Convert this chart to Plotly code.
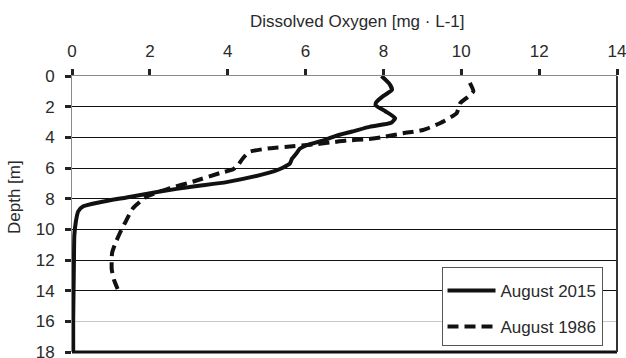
import plotly.graph_objects as go

# August 2015 profile (depth m, dissolved oxygen mg/L)
depth_2015 = [0.0, 0.5, 0.9, 1.3, 1.7, 1.9, 2.3, 2.75, 3.05, 3.3, 3.62, 3.9, 4.17, 4.5, 4.75,
              5.03, 5.4, 5.7, 6.0, 6.2, 6.45, 6.92, 7.2, 7.53, 7.92, 8.23, 8.5, 8.83, 9.48,
              10.4, 12.0, 14.0, 16.0, 18.0]
do_2015 = [7.95, 8.15, 8.22, 8.0, 7.82, 7.8, 8.05, 8.3, 8.2, 7.66, 7.2, 6.78, 6.5, 6.05, 5.85,
           5.77, 5.65, 5.6, 5.4, 5.2, 4.85, 3.97, 3.12, 2.26, 1.4, 0.72, 0.29, 0.16, 0.1,
           0.06, 0.05, 0.04, 0.03, 0.03]

# August 1986 profile
depth_1986 = [0.45, 1.0, 1.4, 1.78, 2.43, 3.08, 3.52, 3.73, 4.0, 4.12, 4.21, 4.34, 4.49, 4.6,
              4.71, 4.93, 5.2, 5.47, 5.8, 6.08, 6.33, 6.88, 7.31, 7.86, 8.61, 9.59, 10.24,
              11.0, 11.54, 12.6, 13.3, 14.0]
do_1986 = [10.22, 10.31, 10.15, 9.97, 9.88, 9.45, 9.02, 8.51, 7.95, 7.57, 7.05, 6.63, 6.11, 5.6,
           5.09, 4.57, 4.45, 4.36, 4.27, 4.14, 3.8, 3.12, 2.52, 1.92, 1.57, 1.36, 1.23,
           1.1, 1.03, 1.02, 1.08, 1.19]

x_ticks = [0, 2, 4, 6, 8, 10, 12, 14]
y_ticks = [0, 2, 4, 6, 8, 10, 12, 14, 16, 18]
dark_grid = [2, 4, 6, 8, 10, 12, 14]

FONT = "Liberation Sans, Arial, sans-serif"
TXT = "#2a2a2a"
FS = 17

fig = go.Figure()
# empty helper trace so the overlaid grid axis is created
fig.add_trace(go.Scatter(x=[], y=[], yaxis="y2", showlegend=False, hoverinfo="skip"))
fig.add_trace(go.Scatter(
    x=do_2015, y=depth_2015, mode="lines", name="August 2015", legendgroup="a",
    line=dict(color="#111111", width=4, shape="spline", smoothing=0.5),
))
fig.add_trace(go.Scatter(
    x=do_1986, y=depth_1986, mode="lines", name="August 1986", legendgroup="b",
    line=dict(color="#111111", width=4, dash="11px,6px", shape="spline", smoothing=0.5),
))

fig.update_layout(
    width=626, height=358,
    margin=dict(l=72, r=9, t=76, b=6, autoexpand=False),
    paper_bgcolor="white", plot_bgcolor="white",
    font=dict(family=FONT, size=FS, color=TXT),
    showlegend=True,
    legend=dict(
        x=0.678, y=0.023, xanchor="left", yanchor="bottom",
        bgcolor="white", bordercolor="#555555", borderwidth=1,
        font=dict(family=FONT, size=FS, color=TXT),
        itemwidth=48, tracegroupgap=11,
        title=dict(text=" ", font=dict(size=4)),
    ),
    xaxis=dict(
        side="top", range=[0, 14], tickvals=x_ticks, ticktext=[str(v) for v in x_ticks],
        showgrid=False, zeroline=False, automargin=False, ticklabeloverflow="allow",
        showline=True, linecolor="#8a8a8a", linewidth=1,
        ticks="outside", ticklen=6, tickwidth=2.5, tickcolor="#222222",
        tickfont=dict(family=FONT, size=FS, color=TXT),
        ticklabelstandoff=5,
    ),
    yaxis=dict(
        range=[18, 0], tickvals=y_ticks, ticktext=[str(v) for v in y_ticks],
        showgrid=True, gridcolor="#c8c8c8", gridwidth=1, zeroline=False, automargin=False,
        ticklabeloverflow="allow",
        showline=True, linecolor="#8a8a8a", linewidth=1,
        ticks="outside", ticklen=6, tickwidth=2.5, tickcolor="#222222",
        tickfont=dict(family=FONT, size=FS, color=TXT),
        ticklabelstandoff=7,
    ),
    yaxis2=dict(
        range=[18, 0], overlaying="y", anchor="x", side="left",
        tickvals=dark_grid, showticklabels=False, ticks="",
        showgrid=True, gridcolor="#111111", gridwidth=1, zeroline=False,
        showline=False, automargin=False,
    ),
    shapes=[
        dict(type="line", xref="paper", yref="paper", x0=0, x1=1, y0=0, y1=0,
             line=dict(color="#111111", width=3)),
        dict(type="line", xref="paper", yref="paper", x0=1, x1=1, y0=0, y1=1,
             line=dict(color="#333333", width=2)),
    ],
    annotations=[
        dict(text="Dissolved Oxygen [mg · L-1]", xref="paper", yref="paper",
             x=0.523, y=1, yshift=55, xanchor="center", yanchor="middle",
             showarrow=False, font=dict(family=FONT, size=FS, color=TXT)),
        dict(text="Depth [m]", xref="paper", yref="paper",
             x=-0.1046, y=0.5616, xanchor="center", yanchor="middle", textangle=-90,
             showarrow=False, font=dict(family=FONT, size=FS, color=TXT)),
    ],
)

fig.write_html("out.html", config={"displayModeBar": False},
               post_script="document.body.style.margin='0';document.body.style.overflow='hidden';")
